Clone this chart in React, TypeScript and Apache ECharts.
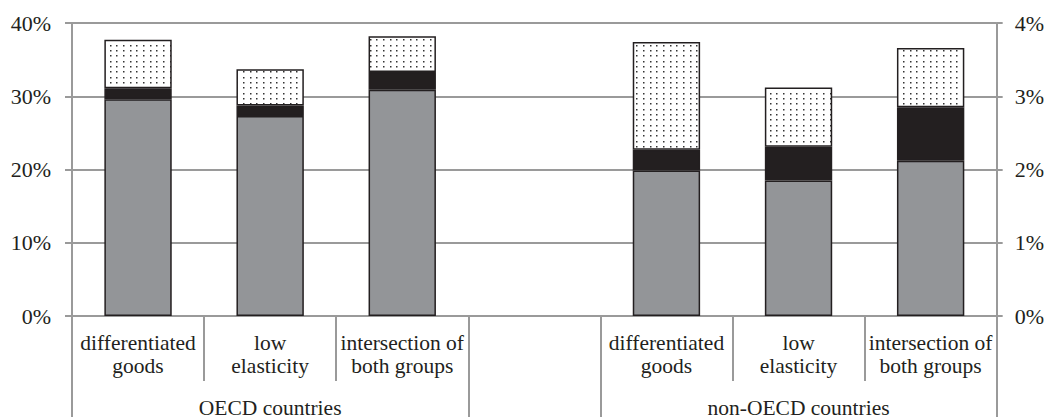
import React, { useEffect, useRef } from "react";
import * as echarts from "echarts";

const categories = [
  "differentiated\ngoods",
  "low\nelasticity",
  "intersection of\nboth groups",
  "",
  "differentiated\ngoods",
  "low\nelasticity",
  "intersection of\nboth groups",
];
const groupLabels = ["", "OECD countries", "", "", "", "non-OECD countries", ""];
const grayValues = [29.6, 27.3, 30.9, null, 19.85, 18.5, 21.2];
const blackValues = [1.5, 1.45, 2.4, null, 2.85, 4.6, 7.3];
const dottedValues = [6.6, 4.95, 4.9, null, 14.7, 8.1, 8.1];
const leftTicks = { min: 0, max: 40, interval: 10 };
const rightTicks = { min: 0, max: 4, interval: 1 };

const FONT = "Liberation Serif";
const TEXT = "#231f20";
const LINE = "#9a9a9a";

function makeDots() {
  const c = document.createElement("canvas");
  c.width = 20;
  c.height = 16;
  const ctx = c.getContext("2d")!;
  ctx.fillStyle = "#ffffff";
  ctx.fillRect(0, 0, 20, 16);
  ctx.fillStyle = "#333333";
  for (let i = 0; i < 3; i++) {
    for (let j = 0; j < 3; j++) {
      ctx.fillRect(Math.round(3 + i * 6.67), Math.round(2 + j * 5.33), 1.5, 1.5);
    }
  }
  return c;
}

export default function App() {
  const ref = useRef<HTMLDivElement>(null);
  useEffect(() => {
    const chart = echarts.init(ref.current!, null, { renderer: "svg" });
    const border = { borderColor: TEXT, borderWidth: 1.5 };
    chart.setOption({
      animation: false,
      grid: { left: 72, right: 48, top: 23, bottom: 101 },
      xAxis: [
        {
          type: "category",
          data: categories,
          position: "bottom",
          axisLine: { show: true, lineStyle: { color: LINE, width: 2 } },
          axisTick: { show: true, length: 65, interval: 0, lineStyle: { color: LINE, width: 2 } },
          axisLabel: {
            interval: 0,
            margin: 15,
            fontFamily: FONT,
            fontSize: 21.5,
            lineHeight: 23,
            color: TEXT,
          },
          splitLine: { show: false },
        },
        {
          type: "category",
          data: groupLabels,
          position: "bottom",
          axisLine: { show: false },
          axisTick: {
            show: true,
            length: 101,
            interval: (i: number) => i === 0 || i === 3 || i === 4,
            lineStyle: { color: LINE, width: 2 },
          },
          axisLabel: {
            interval: (i: number) => i === 1 || i === 5,
            margin: 80,
            fontFamily: FONT,
            fontSize: 21.5,
            lineHeight: 23,
            color: TEXT,
          },
          splitLine: { show: false },
        },
      ],
      yAxis: [
        {
          type: "value",
          position: "left",
          ...leftTicks,
          axisLine: { show: true, lineStyle: { color: LINE, width: 2 } },
          axisTick: { show: true, length: 7, lineStyle: { color: LINE, width: 2 } },
          splitLine: { show: true, lineStyle: { color: LINE, width: 2 } },
          axisLabel: {
            formatter: "{value}%",
            margin: 21,
            fontFamily: FONT,
            fontSize: 22,
            color: TEXT,
          },
        },
        {
          type: "value",
          position: "right",
          ...rightTicks,
          axisLine: { show: true, lineStyle: { color: LINE, width: 2 } },
          axisTick: { show: true, length: 6, lineStyle: { color: LINE, width: 2 } },
          splitLine: { show: false },
          axisLabel: {
            formatter: "{value}%",
            margin: 18,
            fontFamily: FONT,
            fontSize: 22,
            color: TEXT,
          },
        },
      ],
      series: [
        {
          type: "bar",
          stack: "s",
          data: grayValues,
          barWidth: "51%",
          itemStyle: { color: "#939598", ...border },
        },
        {
          type: "bar",
          stack: "s",
          data: blackValues,
          barWidth: "51%",
          itemStyle: { color: TEXT, ...border },
        },
        {
          type: "bar",
          stack: "s",
          data: dottedValues,
          barWidth: "51%",
          itemStyle: {
            color: { image: makeDots(), repeat: "repeat", imageWidth: 20, imageHeight: 16 },
            ...border,
          },
        },
      ],
    });
    return () => chart.dispose();
  }, []);
  return (
    <div
      ref={ref}
      style={{ position: "absolute", left: 0, top: 0, width: 1047, height: 419, background: "#fff" }}
    />
  );
}
